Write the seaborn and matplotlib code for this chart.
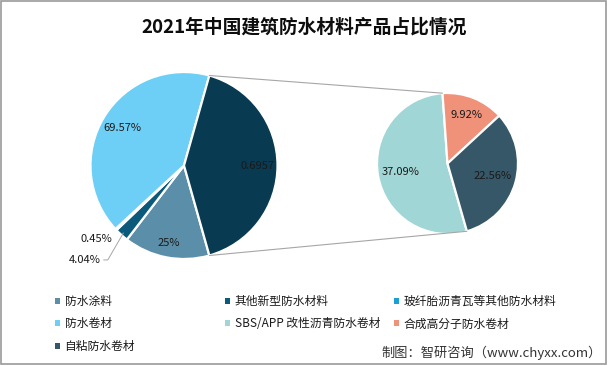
import numpy as np
import matplotlib
matplotlib.use("Agg")
import matplotlib.pyplot as plt
import seaborn as sns
from matplotlib.patches import ConnectionPatch, Patch, Rectangle

# data
main_labels = ["防水涂料", "其他新型防水材料", "玻纤胎沥青瓦等其他防水材料", "防水卷材"]
main_values = [25, 4.04, 0.45, 69.57]
main_colors = ["#5b8fa9", "#0b5a7b", "#1c9fd8", "#6dcff6"]

sub_labels = ["SBS/APP 改性沥青防水卷材", "合成高分子防水卷材", "自粘防水卷材"]
sub_values = [37.09, 9.92, 22.56]
sub_colors = ["#a0d6d5", "#f0927a", "#365768"]

other_color = "#083a51"
other_value = sum(sub_values)

sns.set_theme(style="white")
plt.rcParams["font.family"] = ["Noto Sans CJK SC", "DejaVu Sans"]

W, H = 608, 366
fig = plt.figure(figsize=(W / 100, H / 100), dpi=100)


def px_axes(cx, cy, r):
    return fig.add_axes([(cx - r) / W, (H - cy - r) / H, 2 * r / W, 2 * r / H])


ax1 = px_axes(184, 165.5, 93.5)
ax2 = px_axes(447.5, 163.5, 70.5)

# left pie: the "other" slice (sum of the right pie) sits centered on the right
vals1 = main_values + [other_value]
cols1 = main_colors + [other_color]
frac_other = other_value / sum(vals1)
wedges1, _ = ax1.pie(vals1, colors=cols1, startangle=-180 * frac_other,
                     counterclock=False,
                     wedgeprops=dict(edgecolor="white", linewidth=1.6))
ax1.set_xlim(-1, 1)
ax1.set_ylim(-1, 1)

wedges2, _ = ax2.pie(sub_values, colors=sub_colors, startangle=-74,
                     counterclock=False,
                     wedgeprops=dict(edgecolor="white", linewidth=1.6))
ax2.set_xlim(-1, 1)
ax2.set_ylim(-1, 1)


def mid(w):
    return np.deg2rad((w.theta1 + w.theta2) / 2)


lab_kw = dict(fontsize=8, color="#1a1a1a", ha="center", va="center")

# labels of the big slices
big_text = {0: (f"{main_values[0]:g}%", 0.84), 3: (f"{main_values[3]:g}%", 0.77),
            4: (f"{other_value / 100:.4f}", 0.785)}
for i, (txt, d) in big_text.items():
    a = mid(wedges1[i])
    ax1.text(d * np.cos(a), d * np.sin(a), txt, **lab_kw)

# small slices, labels outside
a = mid(wedges1[1])
ax1.annotate(f"{main_values[1]:g}%", xy=(np.cos(a) * 0.97, np.sin(a) * 0.97),
             xytext=(-1.065, -1.01), textcoords="data",
             arrowprops=dict(arrowstyle="-", color="#a6a6a6", lw=0.7,
                             connectionstyle="angle,angleA=0,angleB=60,rad=0",
                             shrinkA=0, shrinkB=0),
             annotation_clip=False, **lab_kw)
ax1.text(-0.935, -0.79, f"{main_values[2]:g}%", **lab_kw)

for i, w in enumerate(wedges2):
    a = mid(w)
    d = 0.735 if i == 1 else 0.67
    ax2.text(d * np.cos(a), d * np.sin(a), f"{sub_values[i]:g}%", **lab_kw)

# connector lines from the "other" slice to the second pie
wo = wedges1[4]
wt = wedges2[0]
for ta, tb in [(wo.theta1, wt.theta2), (wo.theta2, wt.theta1)]:
    pa = (np.cos(np.deg2rad(ta)), np.sin(np.deg2rad(ta)))
    pb = (np.cos(np.deg2rad(tb)), np.sin(np.deg2rad(tb)))
    con = ConnectionPatch(xyA=pa, coordsA=ax1.transData, xyB=pb, coordsB=ax2.transData,
                          color="#a6a6a6", lw=0.8)
    fig.add_artist(con)

# legend, three columns as in the picture
leg_items = list(zip(main_labels + sub_labels, main_colors + sub_colors))
order = [[0, 3, 6], [1, 4], [2, 5]]
col_x = [54.5, 224.5, 393.5]
for xs, idx in zip(col_x, order):
    handles = [Patch(facecolor=leg_items[k][1], edgecolor="none") for k in idx]
    fig.legend(handles, [leg_items[k][0] for k in idx], loc="upper left",
               bbox_to_anchor=(xs / W, 1 - 295 / H), frameon=False,
               fontsize=8.5, handlelength=0.45, handleheight=0.45,
               handletextpad=0.4, labelspacing=0.8, borderpad=0,
               borderaxespad=0, labelcolor="#1a1a1a")

fig.text(0.5, 1 - 27 / H, "2021年中国建筑防水材料产品占比情况", ha="center", va="center",
         fontsize=13.5, fontweight="bold", color="#0d0d0d")
fig.text(602 / W, 1 - 353 / H, "制图：智研咨询（www.chyxx.com）", ha="right", va="center",
         fontsize=9.5, color="#333333")

fig.add_artist(Rectangle((0.5 / W, 2.5 / H), 605 / W, 363 / H, transform=fig.transFigure,
                         fill=False, edgecolor="#9a9a9a", lw=1.2))

fig.savefig("out.png", dpi=100)
